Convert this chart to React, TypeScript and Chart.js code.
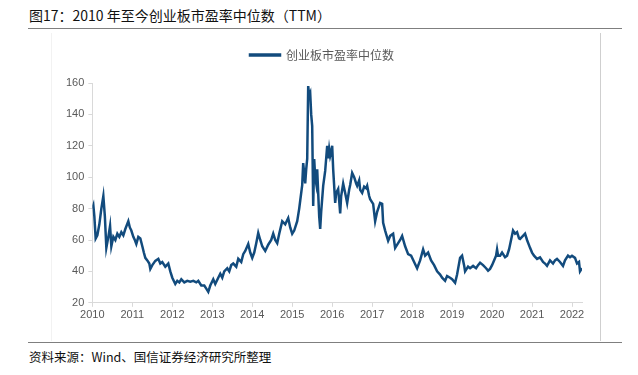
import React, { useEffect, useRef } from "react";
import { Chart, registerables } from "chart.js";

Chart.register(...registerables);

const TITLE = "图17：2010 年至今创业板市盈率中位数（TTM）";
const SOURCE = "资料来源：Wind、国信证券经济研究所整理";
const SERIES_NAME = "创业板市盈率中位数";

const yTickValues = [20, 40, 60, 80, 100, 120, 140, 160];
const xTickYears = [2010, 2011, 2012, 2013, 2014, 2015, 2016, 2017, 2018, 2019, 2020, 2021, 2022];

const dates = [
  2010.0, 2010.025, 2010.05, 2010.083, 2010.125, 2010.175, 2010.225, 2010.275, 2010.313, 2010.35,
  2010.4, 2010.443, 2010.475, 2010.525, 2010.575, 2010.625, 2010.675, 2010.725, 2010.775, 2010.825,
  2010.9, 2010.938, 2010.975, 2011.025, 2011.063, 2011.1, 2011.15, 2011.2, 2011.25, 2011.288,
  2011.325, 2011.375, 2011.425, 2011.45, 2011.5, 2011.575, 2011.65, 2011.7, 2011.75, 2011.825,
  2011.9, 2011.95, 2012.0, 2012.075, 2012.125, 2012.175, 2012.225, 2012.3, 2012.375, 2012.45,
  2012.525, 2012.6, 2012.65, 2012.725, 2012.8, 2012.85, 2012.9, 2012.95, 2013.025, 2013.075,
  2013.15, 2013.2, 2013.25, 2013.3, 2013.375, 2013.425, 2013.475, 2013.525, 2013.6, 2013.65,
  2013.725, 2013.775, 2013.825, 2013.9, 2013.95, 2014.0, 2014.05, 2014.1, 2014.15, 2014.2,
  2014.25, 2014.325, 2014.4, 2014.475, 2014.525, 2014.575, 2014.625, 2014.675, 2014.75, 2014.825,
  2014.9, 2014.95, 2015.0, 2015.05, 2015.125, 2015.175, 2015.2, 2015.25, 2015.275, 2015.325,
  2015.35, 2015.375, 2015.4, 2015.425, 2015.45, 2015.475, 2015.5, 2015.525, 2015.55, 2015.575,
  2015.6, 2015.625, 2015.65, 2015.675, 2015.7, 2015.725, 2015.775, 2015.825, 2015.875, 2015.9,
  2015.925, 2015.95, 2015.975, 2016.0, 2016.025, 2016.075, 2016.1, 2016.15, 2016.175, 2016.2,
  2016.225, 2016.275, 2016.325, 2016.375, 2016.425, 2016.45, 2016.5, 2016.55, 2016.6, 2016.625,
  2016.675, 2016.7, 2016.75, 2016.8, 2016.85, 2016.875, 2016.925, 2016.95, 2017.0, 2017.025,
  2017.075, 2017.125, 2017.2, 2017.25, 2017.275, 2017.325, 2017.4, 2017.45, 2017.525, 2017.575,
  2017.65, 2017.7, 2017.75, 2017.825, 2017.9, 2017.975, 2018.05, 2018.125, 2018.2, 2018.275,
  2018.325, 2018.4, 2018.475, 2018.55, 2018.625, 2018.7, 2018.75, 2018.825, 2018.875, 2018.95,
  2019.0, 2019.075, 2019.125, 2019.2, 2019.25, 2019.3, 2019.325, 2019.4, 2019.45, 2019.525,
  2019.6, 2019.65, 2019.7, 2019.775, 2019.85, 2019.9, 2019.95, 2020.0, 2020.05, 2020.1,
  2020.125, 2020.15, 2020.2, 2020.25, 2020.325, 2020.375, 2020.425, 2020.475, 2020.525, 2020.575,
  2020.625, 2020.675, 2020.7, 2020.75, 2020.825, 2020.875, 2020.95, 2021.0, 2021.05, 2021.125,
  2021.2, 2021.275, 2021.325, 2021.375, 2021.45, 2021.525, 2021.575, 2021.625, 2021.7, 2021.775,
  2021.825, 2021.9, 2021.95, 2022.0, 2022.075, 2022.125, 2022.175, 2022.2, 2022.25, 2022.275,
];

const peValues = [
  80, 82, 75, 61, 63, 70, 80, 88, 75, 55,
  62, 69, 56, 62, 60, 64, 62, 65, 63, 67,
  72, 68, 66, 62, 60, 57.5, 62, 61, 56, 52,
  48.6, 47, 45, 41.6, 44, 46.7, 48, 45, 46, 43,
  45, 40, 36, 32, 34, 33, 35, 33, 34, 33.5,
  34, 33, 34, 31, 31, 29, 27, 31, 35, 32,
  36, 38.5, 36, 40, 42, 40, 44, 45, 43, 48,
  46, 51, 53, 57.5, 52, 48.6, 52, 58, 64.5, 60,
  56, 53, 57, 60, 64, 60, 58, 64, 72, 70,
  74, 68, 64, 66, 72, 80, 85, 95, 109, 96,
  105, 111.6, 158, 152, 153.6, 140, 132.6, 81.7, 111.6, 100,
  96, 105, 90, 75, 67, 78, 94.5, 104, 120, 112,
  118, 113.5, 116, 120, 105, 83.6, 90, 92.5, 85, 77,
  88, 96, 90, 83.6, 92, 95, 102.7, 100, 96, 94.5,
  98, 92, 90, 94, 93, 94.5, 88, 86, 84, 83,
  72, 78, 83.6, 83, 71, 66, 59.5, 62.6, 64, 55,
  58, 60, 62.6, 56, 51, 50, 46, 42, 47, 54,
  50, 52, 47, 44, 40, 38, 36, 34, 37, 36,
  35, 32.7, 38, 48.6, 50, 44, 40, 43, 42, 43.5,
  42, 44, 45.5, 44, 42, 40.5, 41.6, 44, 47, 50,
  54, 50, 50, 52, 49, 50, 54, 60, 66, 64,
  65, 61, 60.7, 62, 64, 60, 55, 52, 50, 48,
  49, 46, 45, 43.5, 47, 45, 47, 48, 46, 43.5,
  47, 50, 49, 50, 48.6, 45, 46, 40, 42, 41.6,
];

const LINE_COLOR = "#124b7d";

const legendGapPlugin = {
  id: "legendGap",
  beforeInit(chart: any) {
    const legend = chart.legend;
    if (!legend) return;
    const origFit = legend.fit;
    legend.fit = function () {
      origFit.call(this);
      this.height += 12;
    };
  },
};

export default function App() {
  const canvasRef = useRef<HTMLCanvasElement | null>(null);

  useEffect(() => {
    if (!canvasRef.current) return;
    const points = dates.map((d, i) => ({ x: d, y: peValues[i] }));
    const tickFont = { family: "'Liberation Sans', Arial, sans-serif", size: 11 };
    const chart = new Chart(canvasRef.current, {
      type: "line",
      data: {
        datasets: [
          {
            label: SERIES_NAME,
            data: points,
            borderColor: LINE_COLOR,
            backgroundColor: LINE_COLOR,
            borderWidth: 2.5,
            pointRadius: 0,
            tension: 0,
          },
        ],
      },
      plugins: [legendGapPlugin],
      options: {
        animation: false,
        responsive: false,
        maintainAspectRatio: false,
        layout: { padding: { left: 10, right: 18, top: 12, bottom: 17 } },
        plugins: {
          legend: {
            display: true,
            position: "top",
            labels: {
              boxWidth: 30,
              boxHeight: 1,
              color: "#595959",
              font: { family: "'Noto Sans CJK SC', sans-serif", size: 12 },
              padding: 12,
            },
          },
          tooltip: { enabled: false },
        },
        scales: {
          x: {
            type: "linear",
            min: 2010,
            max: 2022.25,
            afterBuildTicks: (axis: any) => {
              axis.ticks = xTickYears.map((v) => ({ value: v }));
            },
            ticks: {
              color: "#595959",
              font: tickFont,
              maxRotation: 0,
              autoSkip: false,
              padding: 2,
              callback: (v: any) => String(v),
            },
            grid: {
              drawOnChartArea: false,
              drawTicks: true,
              tickLength: 4,
              color: "#d9d9d9",
            },
            border: { display: true, color: "#d9d9d9" },
          },
          y: {
            type: "linear",
            min: 20,
            max: 160,
            afterBuildTicks: (axis: any) => {
              axis.ticks = yTickValues.map((v) => ({ value: v }));
            },
            ticks: {
              color: "#595959",
              font: tickFont,
              padding: 4,
            },
            grid: {
              drawOnChartArea: false,
              drawTicks: true,
              tickLength: 4,
              color: "#d9d9d9",
            },
            border: { display: true, color: "#d9d9d9" },
          },
        },
      },
    });
    return () => chart.destroy();
  }, []);

  return (
    <div
      style={{
        position: "fixed",
        left: 0,
        top: 0,
        width: 638,
        height: 375,
        background: "#fff",
        fontFamily: "'Noto Sans CJK SC', sans-serif",
        overflow: "hidden",
      }}
    >
      <div
        style={{
          position: "absolute",
          left: 29,
          top: 5,
          fontSize: 14,
          lineHeight: "20px",
          color: "#111",
          whiteSpace: "nowrap",
        }}
      >
        {TITLE}
      </div>
      <div style={{ position: "absolute", left: 28, top: 28, width: 594, height: 1, background: "#7f7f7f" }} />
      <div style={{ position: "absolute", left: 51, top: 33, width: 1, height: 308, background: "#f2f2f2" }} />
      <div style={{ position: "absolute", left: 600, top: 33, width: 1, height: 308, background: "#cfcfcf" }} />
      <canvas
        ref={canvasRef}
        width={548}
        height={316}
        style={{ position: "absolute", left: 52, top: 25, width: 548, height: 316 }}
      />
      <div style={{ position: "absolute", left: 28, top: 342, width: 594, height: 1, background: "#7f7f7f" }} />
      <div
        style={{
          position: "absolute",
          left: 29,
          top: 348,
          fontSize: 12.5,
          lineHeight: "18px",
          color: "#111",
          whiteSpace: "nowrap",
        }}
      >
        {SOURCE}
      </div>
    </div>
  );
}
